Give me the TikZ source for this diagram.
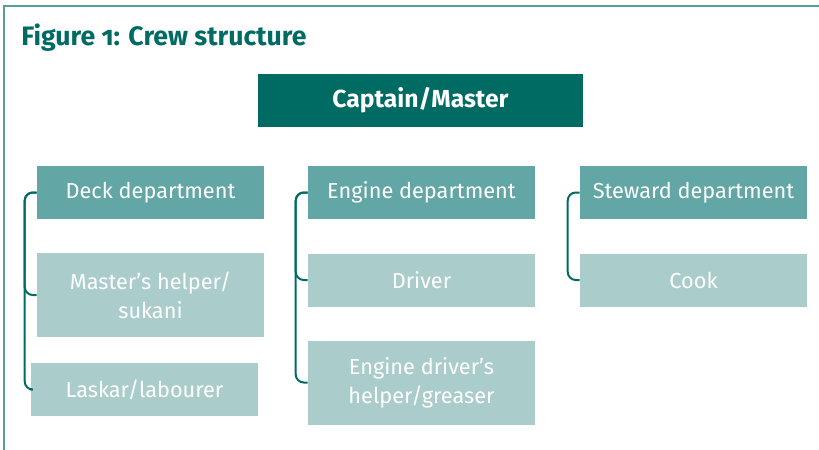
\documentclass[tikz,border=0pt]{standalone}
\usepackage{fontspec}
\setmainfont{Fira Sans}
\newfontfamily\titlefont[Numbers=OldStyle]{Fira Sans}
\usepackage{tikz}
\definecolor{crewdark}{HTML}{006B63}
\definecolor{crewmid}{HTML}{62A6A5}
\definecolor{crewlight}{HTML}{AACDCC}
\definecolor{crewframe}{HTML}{55A09B}
\tikzset{x=0.75pt, y=-0.75pt,
    crew box/.style={draw=none, text=white, align=center,
           minimum width=170.25pt, minimum height=39.75pt,
           inner sep=0pt, font=\fontsize{16.3}{21.75}\selectfont},
    master box/.style={crew box, fill=crewdark, minimum width=243.75pt,
           font=\fontsize{18.5}{21.75}\selectfont\bfseries},
    dept box/.style={crew box, fill=crewmid},
    rank box/.style={crew box, fill=crewlight},
    tall/.style={minimum height=63pt},
    crew line/.style={draw=crewdark, line width=1.5pt, rounded corners=6pt}
    }
\def\Bracket#1#2{%
\draw[crew line] (#1.west) -- ++(-12,0) |- (#2.west);
}

\begin{document}
\begin{tikzpicture}
\useasboundingbox (0,0) rectangle (819,450);
% frame and title
\draw[crewframe, line width=1.2pt] (4,450) -- (4,6) -- (819,6);
\node (title) [anchor=base west, inner sep=0pt, text=crewdark,
     font=\titlefont\fontsize{20}{24}\selectfont\bfseries] at (21,45)
     {Figure 1: Crew structure};
\node (captain) [master box] at (420.5,100.5) {Captain/Master};
% deck
\node (deck) [dept box] at (150.5,192.5) {Deck department};
\node (sukani) [rank box, tall] at (150.5,295) {Master’s helper/\\sukani};
\node (laskar) [rank box] at (144.5,389.5) {Laskar/labourer};
% engine
\node (engine) [dept box] at (421.5,192.5) {Engine department};
\node (driver) [rank box] at (421.5,280) {Driver};
\node (greaser) [rank box, tall] at (421.5,382.5) {Engine driver’s\\helper/greaser};
% steward
\node (steward) [dept box] at (693.5,192.5) {Steward department};
\node (cook) [rank box] at (693.5,280) {Cook};
\Bracket{deck}{sukani}
\Bracket{deck}{laskar}
\Bracket{engine}{driver}
\Bracket{engine}{greaser}
\Bracket{steward}{cook}
\end{tikzpicture}
\end{document}
